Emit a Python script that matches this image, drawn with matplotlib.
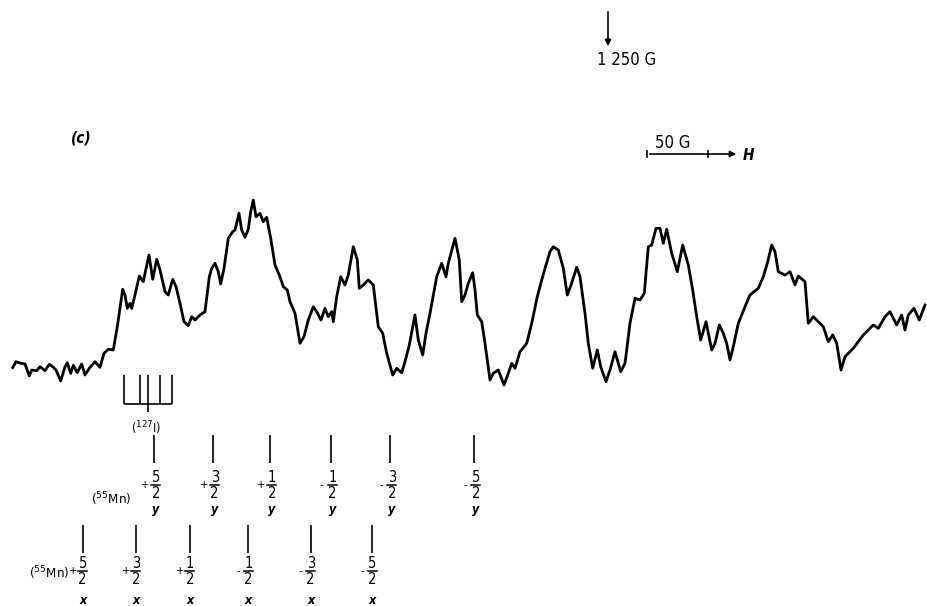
import matplotlib
matplotlib.use("Agg")
from matplotlib import pyplot as plt

# EPR trace (field position, signal height in picture units)
field = [12.7, 16, 20, 25, 29.3, 31.7, 36.7, 40, 45, 49.3, 52.7, 56, 60.7, 65, 67.3,
         70.7, 73.3, 77.3, 81.7, 85, 89.3, 95, 100, 104, 108.3, 113.3, 117.3, 122.7,
         125, 127.3, 130, 131.7, 135, 139.3, 143.3, 145, 149, 152.7, 156.7, 160, 165,
         168.3, 172.7, 176, 180, 184, 188.3, 191.7, 195, 200, 205, 209.3, 211.7, 215,
         218.3, 220.7, 224, 228.3, 232.7, 235, 239, 241.7, 245, 248.3, 250.7, 253.3,
         256, 260, 263.3, 266.7, 270.7, 275, 280, 283.3, 287.3, 290, 295, 300, 304,
         308.3, 313.3, 316.7, 321, 325, 328.3, 331.7, 333.3, 336.7, 340.7, 345, 348.3,
         353.3, 357.3, 359.3, 363.3, 368.3, 373.3, 378.3, 382.7, 386.7, 392.7, 396.7,
         401.7, 405, 409.3, 415, 418.3, 422.7, 426, 430, 436.7, 441.7, 446, 448.3, 455,
         459.3, 461.7, 465, 468.3, 472.7, 475, 477.3, 481.7, 485, 490, 493.3, 498.3,
         504, 508.3, 511.7, 515, 520, 526.7, 531.7, 537.3, 541.7, 546, 550, 553.3,
         558.3, 563.3, 567.3, 571, 576.7, 580, 585, 588.3, 592.7, 597.3, 600.7, 606,
         610, 615, 620.7, 625, 630, 635, 640, 644.3, 648.3, 651.7, 656, 660, 663.3,
         666.7, 671.7, 677.3, 682.7, 688.3, 692.7, 696.7, 700.7, 706, 711.7, 715,
         719.3, 723.3, 726.7, 730, 733.3, 738.3, 745, 750, 758.3, 763.3, 767.3, 771.7,
         775, 778.3, 785, 790, 795, 798.3, 805, 808.3, 813.3, 818.3, 823.3, 828.3,
         832.7, 836.7, 841, 845, 853.3, 863.3, 873.3, 878.3, 885, 890, 896.7, 901.7,
         905, 908.3, 914, 919.3, 925]
signal = [367.7, 361.7, 363, 364, 376, 370, 370.7, 366.7, 370.7, 364.3, 366.7, 370,
          381, 366.7, 362.7, 373.3, 365.3, 372.7, 364, 375, 368.3, 361.7, 367.3, 353.3,
          349.3, 350, 326.7, 289.3, 295, 308.3, 303.3, 308.3, 295, 276, 281.7, 273.3,
          255, 279.3, 259.3, 270, 291.7, 295, 279.3, 286.7, 303.3, 321.7, 325.7, 316.7,
          320, 315, 311.7, 276.7, 268.3, 263.3, 271.7, 284, 268.3, 238.3, 231.7, 230,
          213.3, 230, 237.3, 229.3, 211.7, 200, 216.7, 213.3, 221.7, 217.3, 238.3, 265,
          276.7, 286.7, 290, 301.7, 313.3, 343.3, 336.7, 320, 306.7, 311.7, 320, 308.3,
          316.7, 311.7, 321.7, 296.7, 276.7, 285, 275, 246.7, 260, 288.3, 285, 280, 285,
          326.7, 333.3, 353.3, 375, 368.3, 372.7, 361.7, 345, 315, 340, 355, 333.3,
          313.3, 276.7, 263.3, 276.7, 263.3, 238.3, 260, 301.7, 295, 283.3, 272.7, 290,
          315, 321.7, 343.3, 380, 373.3, 370, 385, 373.3, 363.3, 368.3, 351.7, 343.3,
          323.3, 296.7, 280, 265, 251.7, 246.7, 250, 268.3, 295, 285, 267.3, 276.7,
          313.3, 343.3, 368.3, 350, 366.7, 381.7, 370, 351.7, 371.7, 363.3, 323.3,
          298.3, 300, 293.3, 246.7, 245, 228.3, 228.3, 243.3, 229.3, 253.3, 271.7, 245,
          265, 290, 316.7, 340, 321.7, 350, 343.3, 325, 333.3, 343.3, 360, 346.7, 323.3,
          306.7, 295, 288.3, 276.7, 263.3, 245, 251.7, 271.7, 275, 271.7, 285, 276,
          281.7, 323.3, 316.7, 321.7, 326.7, 341.7, 335, 343.3, 370, 356.7, 348.3, 335,
          325, 328.3, 316.7, 311.7, 325, 315, 330, 315, 308.3, 320, 305]

# 127I stick diagram
iodine_pos = [124.3, 140, 148.3, 160, 171.7]

# 55Mn hyperfine markers, y orientation
mn_y_pos = [154, 212.7, 270, 330.7, 390, 474]
mn_y_sign = ["+", "+", "+", "-", "-", "-"]
mn_y_num = ["5", "3", "1", "1", "3", "5"]

# 55Mn hyperfine markers, x orientation
mn_x_pos = [82.7, 136, 190, 248.3, 310.7, 372.3]
mn_x_sign = ["+", "+", "+", "-", "-", "-"]
mn_x_num = ["5", "3", "1", "1", "3", "5"]

fig = plt.figure(figsize=(9.27, 6.06), dpi=100)
ax = fig.add_axes([0, 0, 1, 1])
ax.set_xlim(0, 927)
ax.set_ylim(606, 0)
ax.axis("off")

ax.plot(field, signal, color="black", lw=2.0, solid_joinstyle="round")

fnt = dict(family="DejaVu Sans", fontstretch="condensed", color="black")

# 1250 G marker
ax.annotate("", xy=(608, 49), xytext=(608, 9),
            arrowprops=dict(arrowstyle="-|>", color="black", lw=1.2, mutation_scale=9))
ax.text(627, 60, "1 250 G", ha="center", va="center", fontsize=12, **fnt)

# panel label
ax.text(81, 138, "(c)", ha="center", va="center", fontsize=11,
        fontstyle="italic", fontweight="bold", **fnt)

# 50 G scale bar
ax.annotate("", xy=(739, 154), xytext=(647, 154),
            arrowprops=dict(arrowstyle="-|>", color="black", lw=1.2, mutation_scale=9))
ax.plot([647, 647], [151, 157], color="black", lw=1.2)
ax.plot([708, 708], [151, 157], color="black", lw=1.2)
ax.text(673, 143, "50 G", ha="center", va="center", fontsize=12, **fnt)
ax.text(748, 155, "H", ha="center", va="center", fontsize=11,
        fontstyle="italic", fontweight="bold", **fnt)

# iodine sticks
ax.hlines(404, iodine_pos[0], iodine_pos[-1], color="black", lw=1.2)
ax.vlines(iodine_pos, 375, 404, color="black", lw=1.2)
ax.vlines(iodine_pos[2], 404, 412, color="black", lw=1.2)
ax.text(146, 428, "($^{127}$I)", ha="center", va="center", fontsize=9, **fnt)


def frac(x, xs, sign, num, y_num, y_bar, y_den, y_lab, lab):
    ax.text(xs, y_bar, sign, ha="center", va="center", fontsize=8, **fnt)
    ax.text(x, y_num, num, ha="center", va="center", fontsize=10.5, **fnt)
    ax.plot([x - 4.5, x + 4.5], [y_bar, y_bar], color="black", lw=1.1)
    ax.text(x, y_den, "2", ha="center", va="center", fontsize=10.5, **fnt)
    ax.text(x, y_lab, lab, ha="center", va="center", fontsize=9,
            fontstyle="italic", fontweight="bold", **fnt)


# y row
ax.vlines(mn_y_pos, 435, 463, color="black", lw=1.2)
ax.text(131, 499, "($^{55}$Mn)", ha="right", va="center", fontsize=9.5, **fnt)
for p, s, n in zip(mn_y_pos, mn_y_sign, mn_y_num):
    frac(p + 2, p - 9, s, n, 477, 485, 493, 510, "y")

# x row
ax.vlines(mn_x_pos, 525, 553, color="black", lw=1.2)
ax.text(69, 573, "($^{55}$Mn)", ha="right", va="center", fontsize=9.5, **fnt)
for p, s, n in zip(mn_x_pos, mn_x_sign, mn_x_num):
    frac(p, p - 10, s, n, 563, 571, 579, 601, "x")

fig.savefig("out.png", dpi=100)
